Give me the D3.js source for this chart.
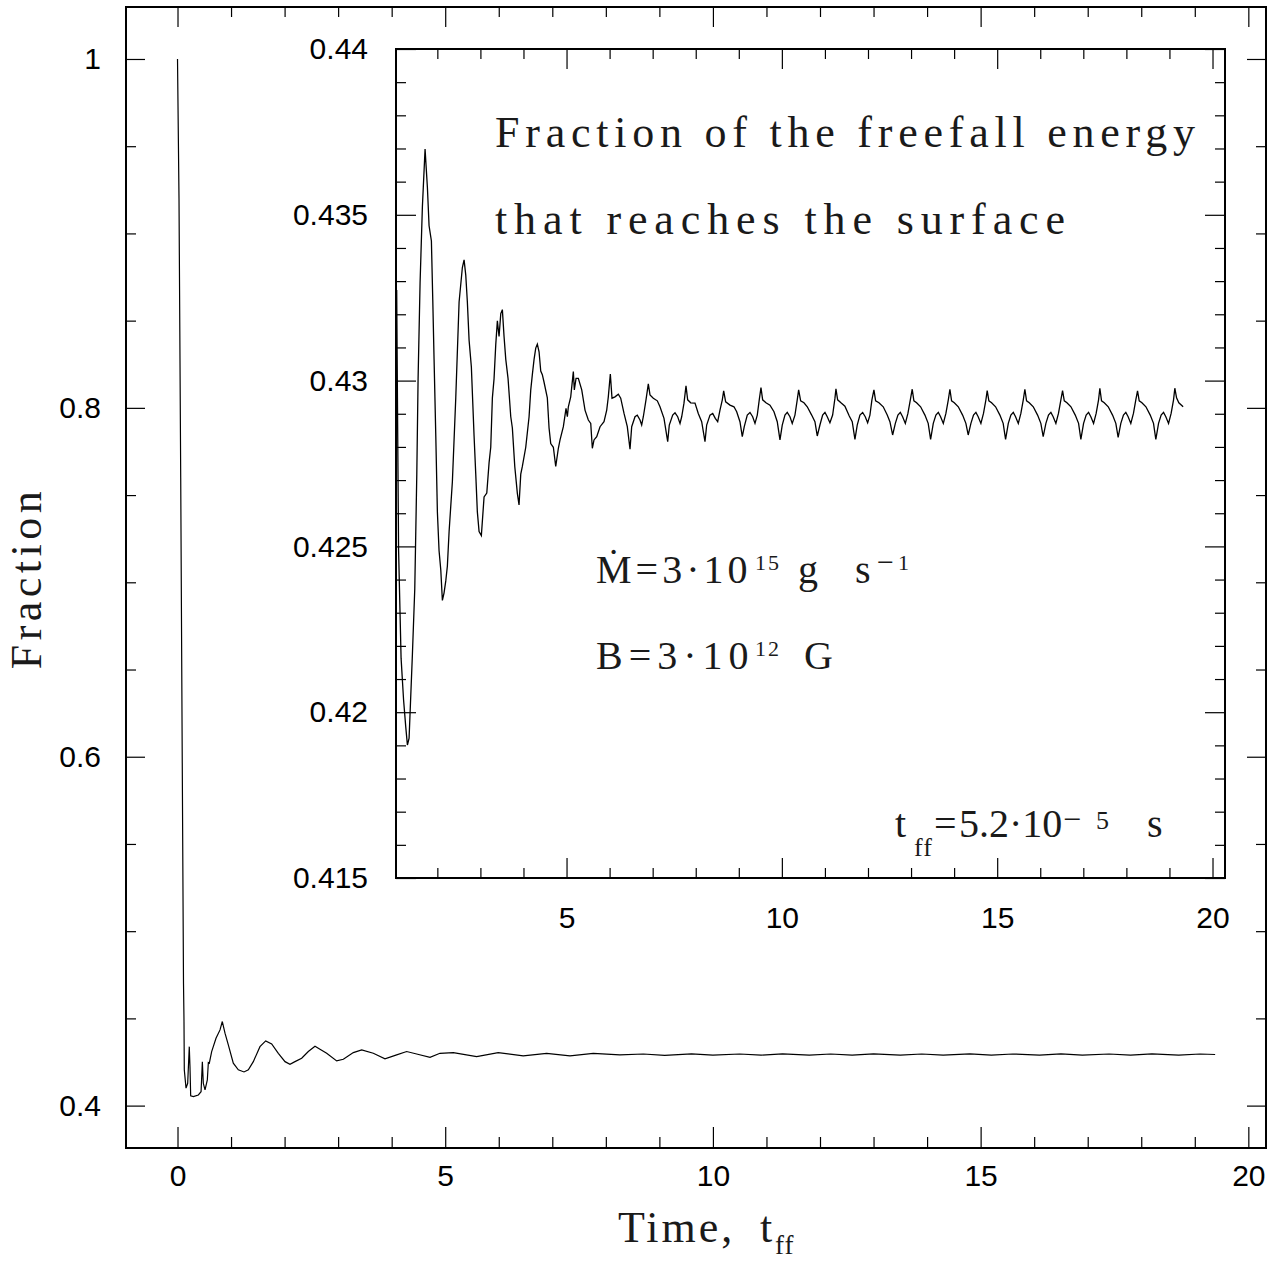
<!DOCTYPE html>
<html>
<head>
<meta charset="utf-8">
<style>
  body { margin: 0; background: #fff; }
  .tick text { font-family: "Liberation Sans", Arial, sans-serif; font-size: 30px; fill: #000; }
  .tick line { stroke: #000; stroke-width: 1.2; }
  .serif { font-family: "Liberation Serif", "DejaVu Serif", serif; fill: #1a1a1a; }
</style>
</head>
<body>
<div id="chart"></div>
<script src="https://d3js.org/d3.v7.min.js"></script>
<script>

// ---- data ----
// main panel: time in t_ff, fraction
const mainCurve = [
  [0.000,1.000],[0.028,0.920],[0.060,0.760],[0.090,0.590],[0.112,0.470],[0.121,0.449],
  [0.127,0.4205],[0.159,0.4100],[0.190,0.4128],[0.220,0.4338],[0.233,0.4224],[0.246,0.4056],
  [0.296,0.4052],[0.389,0.4061],[0.440,0.4080],[0.464,0.4252],[0.482,0.4128],[0.514,0.4090],
  [0.557,0.4147],[0.576,0.4247],[0.594,0.4243],[0.638,0.4310],[0.719,0.4386],[0.794,0.4434],
  [0.837,0.4482],[0.887,0.4415],[0.949,0.4348],[1.042,0.4243],[1.136,0.4205],[1.242,0.4193],
  [1.323,0.4205],[1.416,0.4252],[1.540,0.4338],[1.647,0.4371],[1.759,0.4354],[1.883,0.4300],
  [2.008,0.4252],[2.101,0.4237],[2.194,0.4252],[2.319,0.4272],[2.443,0.4310],[2.568,0.4340],
  [2.661,0.4323],[2.786,0.4300],[2.973,0.4256],[3.097,0.4266],[3.284,0.4304],[3.440,0.4319],
  [3.657,0.4300],[3.875,0.4268],[4.093,0.4291],[4.280,0.4310],[4.467,0.4296],[4.716,0.4277],
  [4.902,0.4300],[5.151,0.4304],[5.587,0.4281],[5.990,0.4304],[6.457,0.4285],[6.894,0.4300],
  [7.330,0.4285],[7.765,0.4300],[8.263,0.4291],[8.700,0.4296],[9.100,0.4288],[9.600,0.4297],
  [10.00,0.4289],[10.50,0.4296],[10.90,0.4289],[11.30,0.4297],[11.80,0.4289],[12.20,0.4296],
  [12.60,0.4289],[13.00,0.4297],[13.50,0.4289],[13.90,0.4296],[14.30,0.4289],[14.80,0.4297],
  [15.20,0.4289],[15.60,0.4296],[16.10,0.4289],[16.50,0.4297],[16.90,0.4289],[17.40,0.4296],
  [17.80,0.4289],[18.20,0.4297],[18.70,0.4289],[19.10,0.4296],[19.38,0.4293]
];

// inset panel: zoom on the same run
const insetCurve = [
  [1.056,0.43273],[1.077,0.42881],[1.100,0.42489],[1.158,0.42163],[1.216,0.42037],[1.267,0.41955],
  [1.305,0.41901],[1.344,0.41922],[1.421,0.42175],[1.476,0.42372],[1.523,0.42718],[1.553,0.43006],
  [1.599,0.43294],[1.653,0.43525],[1.715,0.43698],[1.769,0.43583],[1.808,0.43467],[1.862,0.43421],
  [1.894,0.43243],[1.924,0.43064],[1.964,0.42833],[2.001,0.42604],[2.040,0.42487],[2.080,0.42429],
  [2.117,0.42337],[2.156,0.42360],[2.196,0.42396],[2.233,0.42441],[2.273,0.42545],[2.349,0.42695],
  [2.428,0.42948],[2.505,0.43237],[2.581,0.43341],[2.621,0.43364],[2.660,0.43318],[2.697,0.43237],
  [2.737,0.43122],[2.790,0.43041],[2.853,0.42833],[2.892,0.42718],[2.929,0.42604],[2.969,0.42545],
  [3.022,0.42533],[3.085,0.42649],[3.148,0.42661],[3.201,0.42752],[3.240,0.42799],[3.278,0.42948],
  [3.317,0.43006],[3.357,0.43110],[3.394,0.43180],[3.433,0.43133],[3.473,0.43202],[3.510,0.43214],
  [3.549,0.43133],[3.589,0.43064],[3.642,0.43006],[3.705,0.42891],[3.742,0.42857],[3.798,0.42741],
  [3.858,0.42660],[3.897,0.42625],[3.937,0.42718],[3.974,0.42741],[4.053,0.42799],[4.130,0.42891],
  [4.169,0.42972],[4.206,0.43018],[4.246,0.43064],[4.285,0.43098],[4.322,0.43110],[4.362,0.43087],
  [4.401,0.43029],[4.438,0.43018],[4.478,0.42995],[4.554,0.42948],[4.594,0.42857],[4.633,0.42810],
  [4.694,0.42799],[4.749,0.42741],[4.810,0.42796],[4.849,0.42821],[4.926,0.42861],[4.988,0.42916],
  [5.019,0.42891],[5.042,0.42921],[5.097,0.42951],[5.158,0.43027],[5.181,0.42972],[5.221,0.43007],
  [5.274,0.43007],[5.353,0.42972],[5.429,0.42911],[5.506,0.42881],[5.562,0.42871],[5.599,0.42796],
  [5.638,0.42821],[5.701,0.42831],[5.778,0.42861],[5.870,0.42876],[5.933,0.42911],[5.970,0.42951],
  [6.017,0.43020],[6.056,0.42947],[6.126,0.42951],[6.202,0.42959],[6.258,0.42947],[6.335,0.42901],
  [6.411,0.42861],[6.474,0.42793],[6.513,0.42861],[6.590,0.42891],[6.643,0.42896],[6.706,0.42881],
  [6.745,0.42866],[6.783,0.42891],[6.845,0.42942],[6.899,0.42990],[6.938,0.42957],[7.015,0.42947],
  [7.108,0.42939],[7.170,0.42921],[7.263,0.42886],[7.349,0.42816],[7.386,0.42866],[7.465,0.42896],
  [7.519,0.42903],[7.581,0.42891],[7.635,0.42871],[7.674,0.42891],[7.727,0.42932],[7.774,0.42984],
  [7.813,0.42942],[7.883,0.42933],[7.983,0.42932],[8.059,0.42901],[8.138,0.42876],[8.215,0.42816],
  [8.254,0.42866],[8.331,0.42896],[8.394,0.42901],[8.454,0.42886],[8.510,0.42876],[8.563,0.42911],
  [8.617,0.42942],[8.649,0.42969],[8.695,0.42936],[8.795,0.42926],[8.888,0.42921],[8.951,0.42906],
  [9.027,0.42876],[9.081,0.42831],[9.127,0.42861],[9.197,0.42896],[9.260,0.42904],[9.322,0.42891],
  [9.376,0.42871],[9.429,0.42896],[9.475,0.42942],[9.515,0.42979],[9.554,0.42942],[9.631,0.42933],
  [9.724,0.42926],[9.817,0.42906],[9.893,0.42876],[9.956,0.42821],[10.009,0.42866],[10.072,0.42896],
  [10.125,0.42904],[10.188,0.42891],[10.241,0.42871],[10.304,0.42896],[10.357,0.42942],[10.390,0.42972],
  [10.436,0.42939],[10.513,0.42933],[10.590,0.42921],[10.692,0.42896],[10.768,0.42876],[10.822,0.42833],
  [10.884,0.42866],[10.947,0.42896],[11.001,0.42904],[11.054,0.42891],[11.116,0.42873],[11.179,0.42896],
  [11.233,0.42947],[11.256,0.42975],[11.295,0.42942],[11.372,0.42933],[11.464,0.42923],[11.565,0.42893],
  [11.634,0.42876],[11.697,0.42823],[11.750,0.42866],[11.813,0.42896],[11.876,0.42904],[11.936,0.42891],
  [11.992,0.42873],[12.045,0.42896],[12.091,0.42942],[12.138,0.42972],[12.177,0.42939],[12.254,0.42933],
  [12.354,0.42921],[12.447,0.42896],[12.509,0.42876],[12.572,0.42836],[12.635,0.42871],[12.695,0.42896],
  [12.751,0.42904],[12.804,0.42891],[12.867,0.42871],[12.927,0.42901],[12.983,0.42942],[13.027,0.42974],
  [13.066,0.42939],[13.129,0.42933],[13.222,0.42921],[13.322,0.42896],[13.398,0.42871],[13.454,0.42823],
  [13.516,0.42871],[13.577,0.42896],[13.633,0.42904],[13.686,0.42891],[13.749,0.42871],[13.809,0.42901],
  [13.865,0.42942],[13.902,0.42974],[13.941,0.42939],[14.004,0.42933],[14.097,0.42921],[14.197,0.42896],
  [14.273,0.42871],[14.327,0.42836],[14.390,0.42871],[14.450,0.42896],[14.506,0.42904],[14.559,0.42891],
  [14.622,0.42871],[14.682,0.42901],[14.738,0.42942],[14.768,0.42970],[14.807,0.42939],[14.870,0.42933],
  [14.963,0.42921],[15.063,0.42896],[15.139,0.42871],[15.195,0.42823],[15.258,0.42871],[15.318,0.42896],
  [15.374,0.42904],[15.427,0.42891],[15.490,0.42871],[15.550,0.42901],[15.606,0.42942],[15.643,0.42974],
  [15.682,0.42939],[15.745,0.42933],[15.838,0.42921],[15.938,0.42896],[16.014,0.42871],[16.068,0.42831],
  [16.131,0.42871],[16.191,0.42896],[16.247,0.42904],[16.300,0.42891],[16.363,0.42871],[16.423,0.42901],
  [16.479,0.42942],[16.518,0.42970],[16.558,0.42939],[16.620,0.42933],[16.713,0.42921],[16.813,0.42896],
  [16.890,0.42871],[16.943,0.42823],[17.006,0.42871],[17.066,0.42896],[17.122,0.42904],[17.175,0.42891],
  [17.238,0.42871],[17.298,0.42901],[17.354,0.42942],[17.384,0.42977],[17.423,0.42939],[17.486,0.42933],
  [17.579,0.42921],[17.679,0.42896],[17.755,0.42871],[17.809,0.42829],[17.871,0.42871],[17.932,0.42896],
  [17.987,0.42904],[18.041,0.42891],[18.103,0.42871],[18.164,0.42901],[18.219,0.42942],[18.259,0.42969],
  [18.298,0.42939],[18.361,0.42933],[18.454,0.42921],[18.554,0.42896],[18.630,0.42871],[18.684,0.42823],
  [18.747,0.42871],[18.807,0.42896],[18.863,0.42904],[18.916,0.42891],[18.979,0.42871],[19.039,0.42901],
  [19.095,0.42942],[19.125,0.42977],[19.165,0.42948],[19.218,0.42933],[19.318,0.42921]
];

// tick values
const mainXMajor = [0, 5, 10, 15, 20];
const mainXMinor = [1,2,3,4,6,7,8,9,11,12,13,14,16,17,18,19];
const mainYMajor = [0.4, 0.6, 0.8, 1];
const mainYMinor = [0.45,0.5,0.55,0.65,0.7,0.75,0.85,0.9,0.95];
const insetXMajor = [5, 10, 15, 20];
const insetXMinor = [2,3,4,6,7,8,9,11,12,13,14,16,17,18,19];
const insetYMajor = [0.415, 0.42, 0.425, 0.43, 0.435, 0.44];
const insetYMinor = [0.416,0.417,0.418,0.419,0.421,0.422,0.423,0.424,0.426,0.427,0.428,0.429,
                     0.431,0.432,0.433,0.434,0.436,0.437,0.438,0.439];

const W = 1283, H = 1261;

const svg = d3.select("#chart").append("svg")
  .attr("width", W).attr("height", H)
  .style("background", "#fff");

// main panel frame: x 126..1266, y 7..1148
let xMain = d3.scaleLinear().domain([-0.962, 20.33]).range([126, 1266]);
let yMain = d3.scaleLinear().domain([0.3757, 1.0298]).range([1148, 7]);

// inset frame: x 396..1225, y 49..878
let xIn = d3.scaleLinear().domain([1.04, 20.29]).range([396, 1225]);
let yIn = d3.scaleLinear().domain([0.415, 0.44]).range([878, 49]);

function addAxis(g, axis, tx, ty, labels) {
  let a = g.append("g")
    .attr("transform", "translate(" + tx + "," + ty + ")")
    .call(axis);
  a.select(".domain").remove();
  a.attr("font-size", null).attr("font-family", null);
  if (!labels) a.selectAll("text").remove();
  return a;
}

// small helper for the formula-like labels: pieces placed one by one
function piece(t, x, y, text, size) {
  return t.append("tspan").attr("x", x).attr("y", y)
    .attr("font-size", size || null).text(text);
}

// ---- main panel ----
let main = svg.append("g");

main.append("path")
  .datum(mainCurve)
  .attr("fill", "none")
  .attr("stroke", "#000")
  .attr("stroke-width", 1.2)
  .attr("d", d3.line().x(d => xMain(d[0])).y(d => yMain(d[1])));

addAxis(main, d3.axisBottom(xMain).tickValues(mainXMajor).tickSize(-21).tickPadding(17).tickFormat(d3.format("d")), 0, 1148, true);
addAxis(main, d3.axisBottom(xMain).tickValues(mainXMinor).tickSize(-11).tickFormat(""), 0, 1148, false);
addAxis(main, d3.axisTop(xMain).tickValues(mainXMajor).tickSize(-20), 0, 7, false);
addAxis(main, d3.axisTop(xMain).tickValues(mainXMinor).tickSize(-10), 0, 7, false);

addAxis(main, d3.axisLeft(yMain).tickValues(mainYMajor).tickSize(-19).tickPadding(25).tickFormat(d => String(d)), 126, 0, true);
addAxis(main, d3.axisLeft(yMain).tickValues(mainYMinor).tickSize(-10).tickFormat(""), 126, 0, false);
addAxis(main, d3.axisRight(yMain).tickValues(mainYMajor).tickSize(-19), 1266, 0, false);
addAxis(main, d3.axisRight(yMain).tickValues(mainYMinor).tickSize(-10), 1266, 0, false);

main.append("rect")
  .attr("x", 126).attr("y", 7).attr("width", 1140).attr("height", 1141)
  .attr("fill", "none").attr("stroke", "#000").attr("stroke-width", 2);

// axis titles
svg.append("text")
  .attr("class", "serif")
  .attr("transform", "translate(41,578) rotate(-90)")
  .attr("text-anchor", "middle")
  .attr("font-size", 44)
  .attr("letter-spacing", 4.5)
  .text("Fraction");

let xt = svg.append("text").attr("class", "serif").attr("font-size", 44).attr("letter-spacing", 3);
piece(xt, 618, 1242, "Time,");
piece(xt, 760, 1242, "t");
piece(xt, 775, 1254, "ff", 27).attr("letter-spacing", 1);

// ---- inset ----
let inset = svg.append("g");

inset.append("rect")
  .attr("x", 396).attr("y", 49).attr("width", 829).attr("height", 829)
  .attr("fill", "#fff");

inset.append("clipPath").attr("id", "inclip")
  .append("rect").attr("x", 396).attr("y", 49).attr("width", 829).attr("height", 829);

inset.append("path")
  .datum(insetCurve)
  .attr("clip-path", "url(#inclip)")
  .attr("fill", "none")
  .attr("stroke", "#000")
  .attr("stroke-width", 1.3)
  .attr("d", d3.line().x(d => xIn(d[0])).y(d => yIn(d[1])));

addAxis(inset, d3.axisBottom(xIn).tickValues(insetXMajor).tickSize(-20).tickPadding(29).tickFormat(d3.format("d")), 0, 878, true);
addAxis(inset, d3.axisBottom(xIn).tickValues(insetXMinor).tickSize(-10).tickFormat(""), 0, 878, false);
addAxis(inset, d3.axisTop(xIn).tickValues(insetXMajor).tickSize(-20), 0, 49, false);
addAxis(inset, d3.axisTop(xIn).tickValues(insetXMinor).tickSize(-10), 0, 49, false);

addAxis(inset, d3.axisLeft(yIn).tickValues(insetYMajor).tickSize(-20).tickPadding(28).tickFormat(d3.format(".3~f")), 396, 0, true);
addAxis(inset, d3.axisLeft(yIn).tickValues(insetYMinor).tickSize(-10).tickFormat(""), 396, 0, false);
addAxis(inset, d3.axisRight(yIn).tickValues(insetYMajor).tickSize(-20), 1225, 0, false);
addAxis(inset, d3.axisRight(yIn).tickValues(insetYMinor).tickSize(-10), 1225, 0, false);

inset.append("rect")
  .attr("x", 396).attr("y", 49).attr("width", 829).attr("height", 829)
  .attr("fill", "none").attr("stroke", "#000").attr("stroke-width", 2);

// inset annotations
let note = inset.append("g").attr("class", "serif").attr("font-size", 44);
note.append("text").attr("x", 495).attr("y", 147)
  .attr("textLength", 700).attr("lengthAdjust", "spacing")
  .text("Fraction of the freefall energy");
note.append("text").attr("x", 495).attr("y", 234)
  .attr("textLength", 570).attr("lengthAdjust", "spacing")
  .text("that reaches the surface");

let mdot = note.append("text").attr("font-size", 40).attr("letter-spacing", 4);
piece(mdot, 596, 583, "Ṁ=3·10");
piece(mdot, 755, 570, "15", 22).attr("letter-spacing", 2);
piece(mdot, 798, 583, "g");
piece(mdot, 855, 583, "s");
piece(mdot, 877, 572, "−", 30);
piece(mdot, 898, 570, "1", 22);

let bfield = note.append("text").attr("font-size", 40).attr("letter-spacing", 6);
piece(bfield, 596, 669, "B=3·10");
piece(bfield, 755, 656, "12", 22).attr("letter-spacing", 2);
piece(bfield, 804, 669, "G");

let tff = note.append("text").attr("font-size", 40);
piece(tff, 895, 837, "t");
piece(tff, 914, 856, "ff", 26).attr("letter-spacing", 1);
piece(tff, 934, 837, "=");
piece(tff, 959, 837, "5.2·10");
piece(tff, 1063, 830, "−", 32);
piece(tff, 1096, 829, "5", 26);
piece(tff, 1147, 837, "s");

</script>
</body>
</html>
